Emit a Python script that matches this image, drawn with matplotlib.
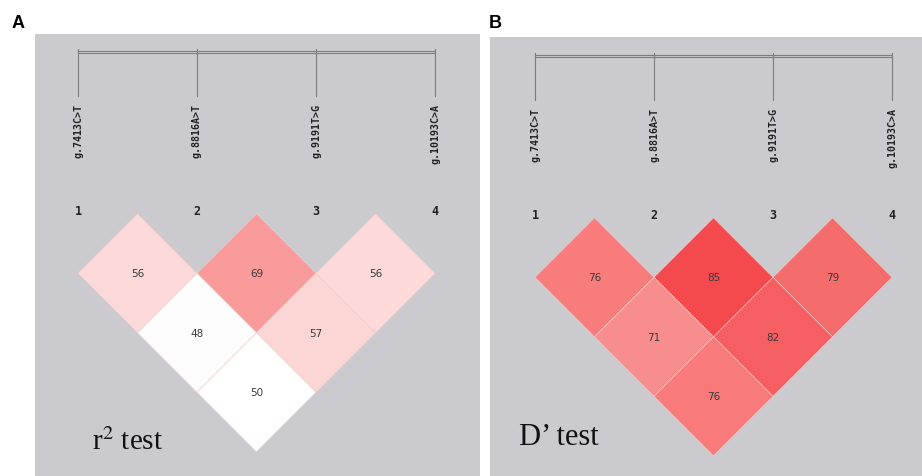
import matplotlib
matplotlib.use("Agg")
import matplotlib.pyplot as plt
from matplotlib.patches import Polygon, Rectangle

# markers (same 4 SNPs in both panels)
snp_names = ["g.7413C>T", "g.8816A>T", "g.9191T>G", "g.10193C>A"]
snp_numbers = ["1", "2", "3", "4"]

# pairs (i, j) of markers, one diamond per pair
pairs = [(0, 1), (1, 2), (2, 3), (0, 2), (1, 3), (0, 3)]

# r2 values (x100) and cell colours, panel A
r2_values = [56, 69, 56, 48, 57, 50]
r2_colors = ["#fddada", "#f99a9b", "#fddad9", "#fdfdfd", "#fcd5d5", "#ffffff"]

# D' values (x100) and cell colours, panel B
d_values = [76, 85, 79, 71, 82, 76]
d_colors = ["#f87c7c", "#f54a4d", "#f56c6c", "#f88d8d", "#f65f62", "#f87a7b"]

W, H = 922, 477
fig = plt.figure(figsize=(W / 100, H / 100), dpi=100)
fig.patch.set_facecolor("white")

GRAY = "#cbcace"
STEP = 119.0  # pixels between markers

plt.rcParams["mathtext.fontset"] = "stix"


def ld_panel(px_left, px_right, px_top, px_x0, px_bracket, values, colors, title, title_xy, title_size):
    # axes placed in pixels, data in "marker" units
    ax = fig.add_axes([px_left / W, 0, (px_right - px_left) / W, (H - px_top) / H])
    ax.set_facecolor(GRAY)
    ax.set_xlim((px_left - px_x0) / STEP, (px_right - px_x0) / STEP)
    ax.set_ylim((H - px_bracket) / STEP, (px_top - px_bracket) / STEP)
    ax.set_aspect("equal")
    ax.axis("off")
    ax.add_patch(Rectangle((ax.get_xlim()[0], ax.get_ylim()[1]),
                           ax.get_xlim()[1] - ax.get_xlim()[0],
                           ax.get_ylim()[0] - ax.get_ylim()[1],
                           facecolor=GRAY, edgecolor="none", zorder=0))

    n = len(snp_names)
    # bracket on top
    ax.add_patch(Rectangle((0, -0.012), n - 1, 0.024, facecolor="none",
                           edgecolor="#7d7d7d", linewidth=0.8, zorder=2))
    for i in range(n):
        ax.plot([i, i], [-0.025, 0.37], color="#7d7d7d", linewidth=0.8, zorder=2)
        ax.text(i, 0.43, snp_names[i], rotation=90, ha="center", va="top",
                fontsize=7.2, fontweight="bold", family="DejaVu Sans Mono",
                color="#222222")
        ax.text(i, 1.33, snp_numbers[i], ha="center", va="center",
                fontsize=8.5, family="DejaVu Sans Mono", fontweight="bold",
                color="#222222")

    base = 1.36
    for (i, j), v, c in zip(pairs, values, colors):
        cx = (i + j) / 2.0
        cy = base + (j - i) * 0.5
        diamond = Polygon([(cx, cy - 0.5), (cx + 0.5, cy), (cx, cy + 0.5), (cx - 0.5, cy)],
                          closed=True, facecolor=c, edgecolor="#f4cccc",
                          linewidth=0.4, zorder=3)
        ax.add_patch(diamond)
        ax.text(cx, cy, str(v), ha="center", va="center", fontsize=7.5,
                color="#3a3a3a", zorder=4)

    tx, ty = title_xy
    ax.text((tx - px_x0) / STEP, (ty - px_bracket) / STEP, title, ha="left",
            va="baseline", fontsize=title_size, family="Liberation Serif",
            color="#111111", zorder=5)
    return ax


ld_panel(35, 480, 35, 78, 53, r2_values, r2_colors, r"r$^{2}$ test", (92, 450), 21)
ld_panel(490, 922, 38, 535, 57, d_values, d_colors, "D\u2019 test", (519, 445), 22)

fig.text(12 / W, 1 - 28 / H, "A", fontsize=13, fontweight="bold", family="Liberation Sans")
fig.text(489 / W, 1 - 28 / H, "B", fontsize=13, fontweight="bold", family="Liberation Sans")

fig.savefig("out.png", dpi=100, facecolor="white")
